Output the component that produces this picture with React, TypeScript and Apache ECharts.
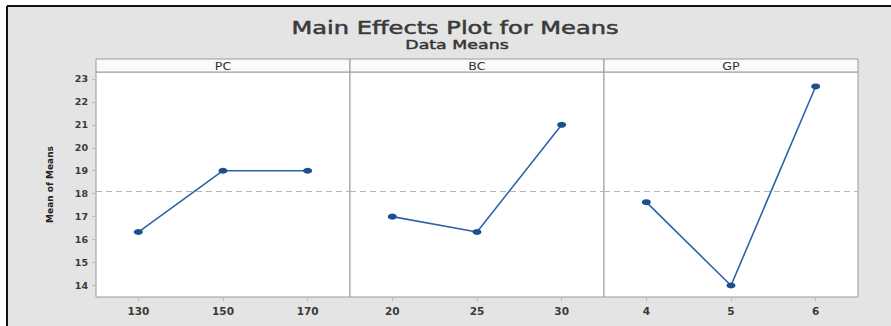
import React, { useEffect, useRef } from "react";
import * as echarts from "echarts";

const factors = ["PC", "BC", "GP"];
const pcLevels = ["130", "150", "170"];
const bcLevels = ["20", "25", "30"];
const gpLevels = ["4", "5", "6"];
const pcMeans = [16.33, 19.0, 19.0];
const bcMeans = [17.0, 16.33, 21.0];
const gpMeans = [17.63, 14.0, 22.67];
const yTicks = [14, 15, 16, 17, 18, 19, 20, 21, 22, 23];
const titleText = "Main Effects Plot for Means";
const subtitleText = "Data Means";

const levels = [pcLevels, bcLevels, gpLevels];
const means = [pcMeans, bcMeans, gpMeans];

export default function App() {
  const ref = useRef<HTMLDivElement>(null);
  useEffect(() => {
    document.body.style.margin = "0";
    const chart = echarts.init(ref.current!, null, { renderer: "svg" });
    const all = means.flat();
    const grand = all.reduce((a, b) => a + b, 0) / all.length;
    const panelLeft = 96;
    const panelW = 254;
    const top = 72;
    const height = 225;
    const font = "DejaVu Sans";
    const grids = factors.map((_, i) => ({
      left: panelLeft + i * panelW,
      top,
      width: panelW,
      height,
      show: true,
      backgroundColor: "#ffffff",
      borderColor: "#9a9a9a",
      borderWidth: 1,
    }));
    const xAxes = factors.map((_, i) => ({
      type: "category",
      gridIndex: i,
      data: levels[i],
      boundaryGap: true,
      axisLine: { show: false },
      axisTick: { show: true, alignWithLabel: true, length: 4, lineStyle: { color: "#bbbbbb" } },
      axisLabel: { color: "#3a3a3a", fontFamily: font, fontSize: 10.5, fontWeight: "bold", margin: 8 },
      splitLine: { show: false },
    }));
    const yAxes = factors.map((_, i) => ({
      type: "value",
      gridIndex: i,
      min: 13.5,
      max: 23.3,
      name: i === 0 ? "Mean of Means" : "",
      nameLocation: "middle",
      nameGap: 42,
      nameTextStyle: { color: "#222222", fontFamily: font, fontSize: 9, fontWeight: "bold" },
      axisLine: { show: false },
      axisTick: { show: i === 0, length: 4, customValues: yTicks, lineStyle: { color: "#bbbbbb" } },
      axisLabel: {
        show: i === 0,
        customValues: yTicks,
        color: "#3a3a3a",
        fontFamily: font,
        fontSize: 9.5,
        fontWeight: "bold",
        margin: 8,
      },
      splitLine: { show: false },
    }));
    const series = factors.map((_, i) => ({
      type: "line",
      xAxisIndex: i,
      yAxisIndex: i,
      data: means[i],
      symbol: "circle",
      symbolSize: [9, 6],
      itemStyle: { color: "#1c4f8c" },
      lineStyle: { color: "#2d64a8", width: 1.6 },
      markLine: {
        silent: true,
        symbol: "none",
        label: { show: false },
        lineStyle: { color: "#b5b5b5", type: [6, 4], width: 1 },
        data: [{ yAxis: grand }],
      },
    }));
    const strips: any[] = [];
    factors.forEach((f, i) => {
      strips.push({
        type: "rect",
        shape: { x: panelLeft + i * panelW, y: 59, width: panelW, height: 13 },
        style: { fill: "#fafafa", stroke: "#9a9a9a", lineWidth: 1 },
      });
      strips.push({
        type: "text",
        x: panelLeft + i * panelW + panelW / 2,
        y: 66,
        scaleX: 1.15,
        style: {
          text: f,
          fill: "#333333",
          font: `11px "${font}"`,
          align: "center",
          verticalAlign: "middle",
        },
      });
    });
    chart.setOption({
      animation: false,
      backgroundColor: "#ffffff",
      graphic: [
        {
          type: "rect",
          z: -10,
          shape: { x: 7, y: 6, width: 884, height: 320 },
          style: { fill: "#e4e4e4" },
        },
        { type: "line", shape: { x1: 7, y1: 6, x2: 891, y2: 6 }, style: { stroke: "#111111", lineWidth: 2 } },
        { type: "line", shape: { x1: 7, y1: 6, x2: 7, y2: 326 }, style: { stroke: "#111111", lineWidth: 2 } },
        {
          type: "text",
          x: 455,
          y: 28,
          scaleX: 1.42,
          style: {
            text: titleText,
            fill: "#3a3a3a",
            stroke: "#3a3a3a",
            lineWidth: 0.5,
            font: `17px "${font}"`,
            align: "center",
            verticalAlign: "middle",
          },
        },
        {
          type: "text",
          x: 457,
          y: 45,
          scaleX: 1.45,
          style: {
            text: subtitleText,
            fill: "#333333",
            stroke: "#333333",
            lineWidth: 0.4,
            font: `12px "${font}"`,
            align: "center",
            verticalAlign: "middle",
          },
        },
        ...strips,
      ],
      grid: grids,
      xAxis: xAxes,
      yAxis: yAxes,
      series,
    });
    return () => chart.dispose();
  }, []);
  return <div ref={ref} style={{ width: 891, height: 326 }} />;
}
